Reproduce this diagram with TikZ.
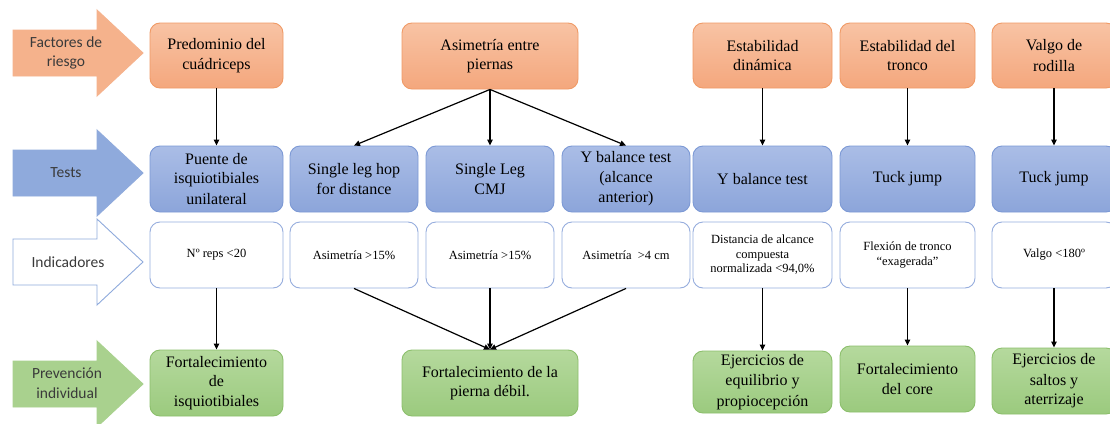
\documentclass[tikz,border=0pt]{standalone}
\usepackage{fontspec}
\setmainfont{Liberation Serif}
\newfontfamily\boxfont{Liberation Serif}
\newfontfamily\arrowfont{Carlito}
\usetikzlibrary{arrows.meta}
\definecolor{orTop}{HTML}{F8C3A4}
\definecolor{orBot}{HTML}{F4A77D}
\definecolor{orLine}{HTML}{F09A66}
\definecolor{blTop}{HTML}{AABDE6}
\definecolor{blBot}{HTML}{8CA5DA}
\definecolor{blLine}{HTML}{7C99D5}
\definecolor{grTop}{HTML}{B5D99D}
\definecolor{grBot}{HTML}{9BCA7E}
\definecolor{grLine}{HTML}{8CBF6C}
\definecolor{arOr}{HTML}{F5B28C}
\definecolor{arBl}{HTML}{8FAADC}
\definecolor{arGr}{HTML}{A9D18E}
\definecolor{txtGray}{HTML}{3A3A3A}
\tikzset{
  x=1pt, y=-1pt,
  diagbox/.style={rounded corners=10pt, line width=0.9pt, align=center, inner sep=2pt, text=black},
  riskbox/.style={diagbox, draw=orLine, top color=orTop, bottom color=orBot, font=\boxfont\fontsize{16}{14.5}\selectfont},
  testbox/.style={diagbox, draw=blLine, top color=blTop, bottom color=blBot, font=\boxfont\fontsize{16}{14.5}\selectfont},
  indbox/.style={diagbox, draw=blLine!80, fill=white, font=\boxfont\fontsize{12.5}{14.5}\selectfont},
  prevbox/.style={diagbox, draw=grLine, top color=grTop, bottom color=grBot, font=\boxfont\fontsize{16}{14.5}\selectfont},
  conn/.style={line width=1.2pt, black, -{Triangle[length=6pt,width=5.5pt]}},
  sidetext/.style={align=center, font=\arrowfont\fontsize{15.5}{19.5}\selectfont, text=txtGray},
}
\newcommand{\sidearrow}[2]{%
  \path[#2, line width=0.9pt] (13,#1-23) -- (97,#1-23) -- (97,#1-43) -- (143,#1)
    -- (97,#1+43) -- (97,#1+23) -- (13,#1+23) -- cycle;}
\begin{document}
\begin{tikzpicture}
\useasboundingbox (0,0) rectangle (1110,423);
\clip (0,0) rectangle (1110,423);
\fill[white] (0,0) rectangle (1110,423);

% side arrows
\sidearrow{53}{fill=arOr, draw=arOr}
\sidearrow{173}{fill=arBl, draw=arBl}
\sidearrow{262}{fill=white, draw=arBl}
\sidearrow{384}{fill=arGr, draw=arGr}
\node[sidetext] (lr) at (66,53) {Factores de\\riesgo};
\node[sidetext] (lt) at (66,173) {Tests};
\node[sidetext] (li) at (68,262) {Indicadores};
\node[sidetext] (lp) at (67,383) {Prevención\\individual};

% risk factors
\node[riskbox, minimum width=133pt, minimum height=65pt] (o1) at (216.5,55.5) {Predominio del\\[5pt]cuádriceps};
\node[riskbox, minimum width=176pt, minimum height=66pt] (o2) at (490,56) {Asimetría entre\\[5pt]piernas};
\node[riskbox, minimum width=139pt, minimum height=65pt] (o5) at (762.5,55.5) {Estabilidad\\[5pt]dinámica};
\node[riskbox, minimum width=135pt, minimum height=65pt] (o6) at (907.5,55.5) {Estabilidad del\\[5pt]tronco};
\node[riskbox, minimum width=124pt, minimum height=65pt] (o7) at (1054,55.5) {Valgo de\\[5pt]rodilla};

% tests
\node[testbox, minimum width=133pt, minimum height=66pt] (b1) at (216.5,179) {Puente de\\[5pt]isquiotibiales\\[5pt]unilateral};
\node[testbox, minimum width=128pt, minimum height=66pt] (b2) at (354,179) {Single leg hop\\[5pt]for distance};
\node[testbox, minimum width=128pt, minimum height=66pt] (b3) at (490,179) {Single Leg\\[5pt]CMJ};
\node[testbox, minimum width=128pt, minimum height=66pt] (b4) at (626,179) {Y balance test\\[5pt](alcance\\[5pt]anterior)};
\node[testbox, minimum width=139pt, minimum height=66pt] (b5) at (762.5,179) {Y balance test};
\node[testbox, minimum width=135pt, minimum height=66pt] (b6) at (907.5,179) {Tuck jump};
\node[testbox, minimum width=124pt, minimum height=66pt] (b7) at (1054,179) {Tuck jump};

% indicators
\node[indbox, minimum width=133pt, minimum height=66pt] (i1) at (216.5,255) {Nº reps <20};
\node[indbox, minimum width=128pt, minimum height=66pt] (i2) at (354,255) {Asimetría >15\%};
\node[indbox, minimum width=128pt, minimum height=66pt] (i3) at (490,255) {Asimetría >15\%};
\node[indbox, minimum width=128pt, minimum height=66pt] (i4) at (626,255) {Asimetría\ \ >4 cm};
\node[indbox, minimum width=139pt, minimum height=66pt] (i5) at (762.5,255) {Distancia de alcance\\compuesta\\normalizada <94,0\%};
\node[indbox, minimum width=135pt, minimum height=66pt] (i6) at (907.5,255) {Flexión de tronco\\“exagerada”};
\node[indbox, minimum width=124pt, minimum height=66pt] (i7) at (1054,255) {Valgo <180º};

% prevention
\node[prevbox, minimum width=133pt, minimum height=66pt] (g1) at (216.5,383) {Fortalecimiento\\[5pt]de\\[5pt]isquiotibiales};
\node[prevbox, minimum width=176pt, minimum height=66pt] (g2) at (490,383) {Fortalecimiento de la\\[5pt]pierna débil.};
\node[prevbox, minimum width=139pt, minimum height=62pt] (g5) at (762.5,382) {Ejercicios de\\[5pt]equilibrio y\\[5pt]propiocepción};
\node[prevbox, minimum width=135pt, minimum height=66pt] (g6) at (907.5,379) {Fortalecimiento\\[5pt]del core};
\node[prevbox, minimum width=124pt, minimum height=66pt] (g7) at (1054,381) {Ejercicios de\\[5pt]saltos y\\[5pt]aterrizaje};

% connectors
\draw[conn] (o1.south) -- (b1.north);
\draw[conn] (o2.south) -- (b2.north);
\draw[conn] (o2.south) -- (b3.north);
\draw[conn] (o2.south) -- (b4.north);
\draw[conn] (o5.south) -- (b5.north);
\draw[conn] (o6.south) -- (b6.north);
\draw[conn] (o7.south) -- (b7.north);
\draw[conn] (i1.south) -- (g1.north);
\draw[conn] (i2.south) -- (g2.north);
\draw[conn] (i3.south) -- (g2.north);
\draw[conn] (i4.south) -- (g2.north);
\draw[conn] (i5.south) -- (g5.north);
\draw[conn] (i6.south) -- (g6.north);
\draw[conn] (i7.south) -- (g7.north);
\end{tikzpicture}
\end{document}
